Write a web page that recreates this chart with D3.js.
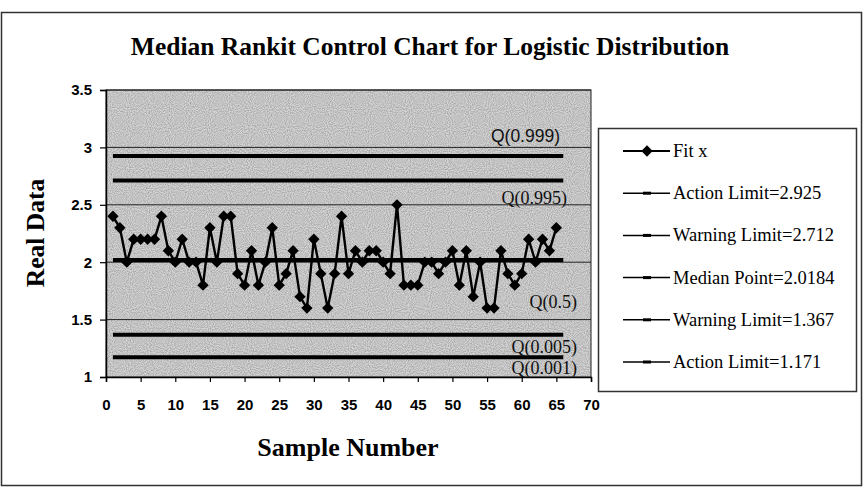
<!DOCTYPE html>
<html><head><meta charset="utf-8">
<script src="https://cdn.jsdelivr.net/npm/d3@7"></script>
<style>body{margin:0;background:#fff}svg{display:block}</style>
</head><body>
<svg id="c" width="865" height="488"></svg>
<script>
// ---- data ----
const fitX = [2.4,2.3,2.0,2.2,2.2,2.2,2.2,2.4,2.1,2.0,
              2.2,2.0,2.0,1.8,2.3,2.0,2.4,2.4,1.9,1.8,
              2.1,1.8,2.0,2.3,1.8,1.9,2.1,1.7,1.6,2.2,
              1.9,1.6,1.9,2.4,1.9,2.1,2.0,2.1,2.1,2.0,
              1.9,2.5,1.8,1.8,1.8,2.0,2.0,1.9,2.0,2.1,
              1.8,2.1,1.7,2.0,1.6,1.6,2.1,1.9,1.8,1.9,
              2.2,2.0,2.2,2.1,2.3];
const limitNames = ["Action Limit=2.925","Warning Limit=2.712","Median Point=2.0184","Warning Limit=1.367","Action Limit=1.171"];
const limitValues = [2.925,2.712,2.0184,1.367,1.171];
const limitSpan = [1,66];
const qLabels = ["Q(0.999)","Q(0.995)","Q(0.5)","Q(0.005)","Q(0.001)"];
const qAnchors = [3.0,2.5,1.5,1.171,1.0];
const xTicks = [0,5,10,15,20,25,30,35,40,45,50,55,60,65,70];
const yTicks = [1,1.5,2,2.5,3,3.5];
const yTickLabels = ["1","1.5","2","2.5","3","3.5"];

const svg = d3.select("#c");
const serif = "'Liberation Serif','Times New Roman',serif";
const sans = "'Liberation Sans',Arial,sans-serif";

// frame
svg.append("rect").attr("x",1.5).attr("y",12.5).attr("width",860).attr("height",473)
  .attr("fill","#fff").attr("stroke","#333").attr("stroke-width",1.5);

const L=106,R=591,T=90,B=377;
const x = d3.scaleLinear().domain([0,70]).range([L,R]);
const y = d3.scaleLinear().domain([1,3.5]).range([B,T]);

// plot background
svg.append("rect").attr("x",L).attr("y",T).attr("width",R-L).attr("height",B-T)
  .attr("fill","#d4d4d4");
const defs = svg.append("defs");
const f = defs.append("filter").attr("id","noise").attr("x",0).attr("y",0).attr("width","100%").attr("height","100%");
f.append("feTurbulence").attr("type","fractalNoise").attr("baseFrequency",0.95).attr("numOctaves",1).attr("seed",3);
f.append("feColorMatrix").attr("type","matrix").attr("values","0 0 0 0 0  0 0 0 0 0  0 0 0 0 0  0 0 0 0.9 -0.3");
f.append("feComposite").attr("operator","in").attr("in2","SourceGraphic");
svg.append("rect").attr("x",L).attr("y",T).attr("width",R-L).attr("height",B-T)
  .attr("fill","#fff").attr("filter","url(#noise)").attr("opacity",0.55);
svg.append("rect").attr("x",L).attr("y",T).attr("width",R-L).attr("height",B-T)
  .attr("fill","none").attr("stroke","#222").attr("stroke-width",1);

// gridlines
svg.append("g").selectAll("line").data(yTicks.slice(1)).join("line")
  .attr("x1",L).attr("x2",R).attr("y1",d=>y(d)).attr("y2",d=>y(d))
  .attr("stroke","#222").attr("stroke-width",1);

// axes
const yAxis = svg.append("g").attr("transform",`translate(${L},0)`)
  .call(d3.axisLeft(y).tickValues(yTicks).tickFormat((d,i)=>yTickLabels[i]).tickSize(6).tickPadding(8));
const xAxis = svg.append("g").attr("transform",`translate(0,${B})`)
  .call(d3.axisBottom(x).tickValues(xTicks).tickSize(5).tickPadding(17));
[yAxis,xAxis].forEach(a=>{
  a.select(".domain").attr("stroke","#000").attr("stroke-width",1.5);
  a.selectAll(".tick line").attr("stroke","#000").attr("stroke-width",1.2);
  a.selectAll("text").attr("font-family",sans).attr("font-weight","bold").attr("font-size",15).attr("fill","#000");
});

// limit lines
svg.append("g").selectAll("line").data(limitValues).join("line")
  .attr("x1",x(limitSpan[0])).attr("x2",x(limitSpan[1]))
  .attr("y1",d=>y(d)).attr("y2",d=>y(d))
  .attr("stroke","#000").attr("stroke-width",4);

// fit line
const line = d3.line().x((d,i)=>x(i+1)).y(d=>y(d));
svg.append("path").datum(fitX).attr("d",line).attr("fill","none").attr("stroke","#000").attr("stroke-width",2.4);
const diamond = d3.symbol().type(d3.symbolSquare).size(64);
svg.append("g").selectAll("path").data(fitX).join("path")
  .attr("d",diamond).attr("fill","#000")
  .attr("transform",(d,i)=>`translate(${x(i+1)},${y(d)}) rotate(45)`);

// Q labels
const qX = [560,567,577,577,577];
const qDy = [-5,-1,-12,-4,-3];
const qFont = [sans,serif,serif,serif,serif];
const qSize = [17.5,18,18,18,18];
svg.append("g").selectAll("text").data(qLabels).join("text")
  .attr("x",(d,i)=>qX[i]).attr("y",(d,i)=>y(qAnchors[i])+qDy[i])
  .attr("text-anchor","end").attr("font-family",(d,i)=>qFont[i]).attr("font-size",(d,i)=>qSize[i])
  .attr("fill","#111").text(d=>d);

// title
svg.append("text").attr("x",430).attr("y",55).attr("text-anchor","middle")
  .attr("font-family",serif).attr("font-weight","bold").attr("font-size",25.5)
  .text("Median Rankit Control Chart for Logistic Distribution");
// axis titles
svg.append("text").attr("x",348).attr("y",456).attr("text-anchor","middle")
  .attr("font-family",serif).attr("font-weight","bold").attr("font-size",26)
  .text("Sample Number");
svg.append("text").attr("transform","translate(44,233) rotate(-90)").attr("text-anchor","middle")
  .attr("font-family",serif).attr("font-weight","bold").attr("font-size",25.5)
  .text("Real Data");

// legend
const lg = svg.append("g");
lg.append("rect").attr("x",598.5).attr("y",128.5).attr("width",258).attr("height",263)
  .attr("fill","#fff").attr("stroke","#333").attr("stroke-width",1.5);
const legItems = ["Fit x"].concat(limitNames);
const rowY = d3.scaleLinear().domain([0,5]).range([151,362]);
const lgRows = lg.selectAll("g").data(legItems).join("g")
  .attr("transform",(d,i)=>`translate(0,${rowY(i)})`);
lgRows.append("line").attr("x1",623).attr("x2",670).attr("y1",0).attr("y2",0)
  .attr("stroke","#000").attr("stroke-width",(d,i)=>i===0?2.2:1.5);
lgRows.filter((d,i)=>i===0).append("path").attr("d",diamond).attr("fill","#000")
  .attr("transform","translate(647,0) rotate(45)");
lgRows.filter((d,i)=>i>0).append("rect").attr("x",643).attr("y",-1.5).attr("width",8).attr("height",3).attr("fill","#000");
lgRows.append("text").attr("x",673).attr("y",6).attr("font-family",serif).attr("font-size",18.5)
  .attr("fill","#000").text(d=>d);
</script>
</body></html>
